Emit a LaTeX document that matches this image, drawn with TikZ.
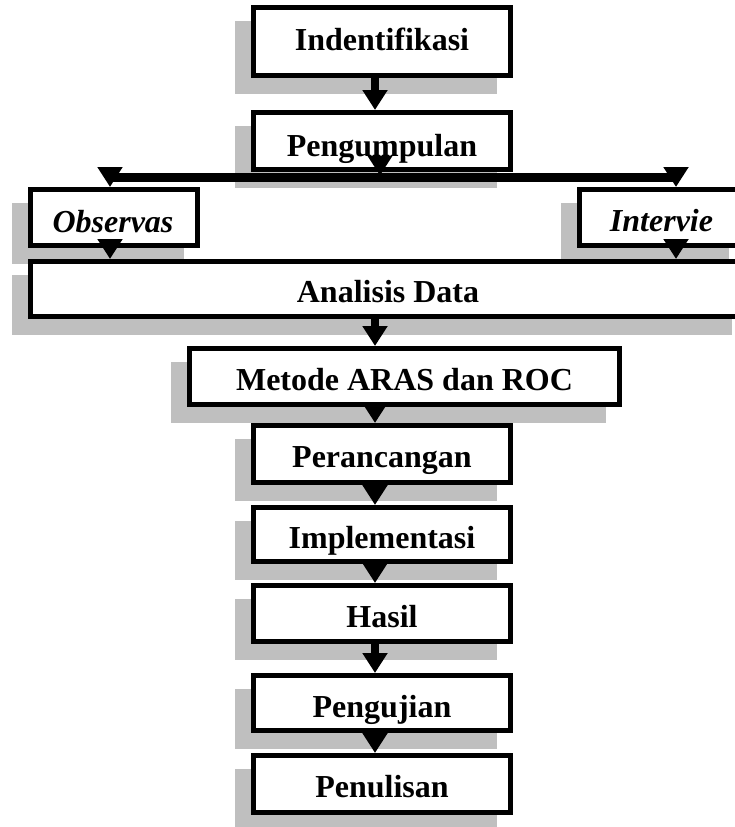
\documentclass[tikz,border=0pt]{standalone}
\usepackage{fontspec}
\setmainfont{Liberation Serif}
\usetikzlibrary{arrows.meta,backgrounds}
\definecolor{shadowgray}{RGB}{191,191,191}
\begin{document}
\begin{tikzpicture}[x=1pt,y=-1pt,
  box/.style={draw=black,line width=5pt,fill=white,rectangle,inner sep=0pt},
  txt/.style={anchor=base,inner sep=0pt,font=\fontsize{32}{38}\selectfont\bfseries},
  itxt/.style={anchor=base,inner sep=0pt,font=\fontsize{32}{38}\selectfont\bfseries\itshape},
  conn/.style={line width=8pt,-{Triangle[width=24pt,length=20pt]}},
  busline/.style={line width=9pt},
  shade/.style={fill=shadowgray}]
\useasboundingbox (0,0) rectangle (735,827);
% boxes
\node[box,minimum width=257pt,minimum height=68pt] (ind) at (382,41.5) {};
\node[box,minimum width=257pt,minimum height=57pt] (pen) at (382,141) {};
\node[box,minimum width=167pt,minimum height=56pt] (obs) at (114,217.5) {};
\node[box,minimum width=163pt,minimum height=56pt] (int) at (661,217.5) {};
\node[box,minimum width=715pt,minimum height=55pt] (ana) at (388,289) {};
\node[box,minimum width=430pt,minimum height=56pt] (met) at (404.5,376.5) {};
\node[box,minimum width=257pt,minimum height=57pt] (per) at (382,454) {};
\node[box,minimum width=257pt,minimum height=54pt] (imp) at (382,534.5) {};
\node[box,minimum width=257pt,minimum height=56pt] (has) at (382,613.5) {};
\node[box,minimum width=257pt,minimum height=55pt] (pgj) at (382,703) {};
\node[box,minimum width=257pt,minimum height=57pt] (pnl) at (382,784) {};
% shadows
\begin{scope}[on background layer]
\foreach \b in {ind,pen,obs,int,ana,met,per,imp,has,pgj,pnl}{
  \fill[shade] ([shift={(-16,16)}]\b.south west) rectangle ([shift={(-16,16)}]\b.north east);
}
\end{scope}
% texts
\node[txt] (indT) at (382,50) {Indentifikasi};
\node[txt] (penT) at (382,156) {Pengumpulan};
\node[itxt] (obsT) at (113,232) {Observas};
\node[itxt] (intT) at (661.5,231) {Intervie};
\node[txt] (anaT) at (388,302) {Analisis Data};
\node[txt] (metT) at (404.5,390) {Metode ARAS dan ROC};
\node[txt] (perT) at (382,467) {Perancangan};
\node[txt] (impT) at (382,548) {Implementasi};
\node[txt] (hasT) at (382,627) {Hasil};
\node[txt] (pgjT) at (382,717) {Pengujian};
\node[txt] (pnlT) at (382,797) {Penulisan};
% connector coordinates
\coordinate (ax) at (375,0);
\coordinate (hub) at (380,177.5);
\coordinate (lt) at (110,177.5);
\coordinate (rt) at (676,177.5);
\coordinate (obsIn) at (lt |- obs.north);
\coordinate (intIn) at (rt |- int.north);
\coordinate (obsOut) at (lt |- ana.north);
\coordinate (intOut) at (rt |- ana.north);
\coordinate (perIn) at (ax |- per.north);
\coordinate (impIn) at (ax |- imp.north);
\coordinate (hasIn) at (ax |- has.north);
\coordinate (pnlIn) at (ax |- pnl.north);
% connectors
\draw[conn] (ax |- ind.south) -- (ax |- pen.north);
\draw[busline] (lt) -- (rt);
\draw[conn] ([yshift=22pt]hub) -- ([yshift=2pt]hub);
\draw[conn] ([yshift=20pt]obsIn) -- (obsIn);
\draw[conn] ([yshift=20pt]intIn) -- (intIn);
\draw[conn] ([yshift=20pt]obsOut) -- (obsOut);
\draw[conn] ([yshift=20pt]intOut) -- (intOut);
\draw[conn] (ax |- ana.south) -- (ax |- met.north);
\draw[conn] ([yshift=20pt]perIn) -- (perIn);
\draw[conn] ([yshift=20pt]impIn) -- (impIn);
\draw[conn] ([yshift=20pt]hasIn) -- (hasIn);
\draw[conn] (ax |- has.south) -- (ax |- pgj.north);
\draw[conn] ([yshift=20pt]pnlIn) -- (pnlIn);
\end{tikzpicture}
\end{document}
